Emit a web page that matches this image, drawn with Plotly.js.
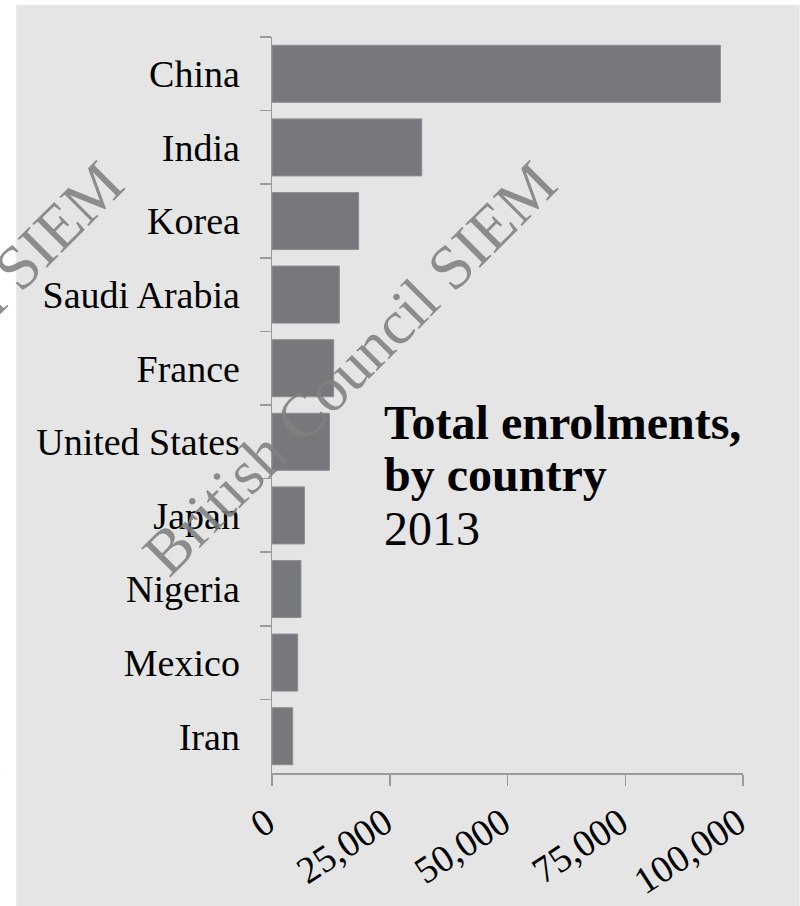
<!DOCTYPE html>
<html>
<head>
<meta charset="utf-8">
<script src="https://cdn.plot.ly/plotly-3.0.1.min.js"></script>
<style>html,body{margin:0;padding:0;background:#fff;}#chart{width:800px;height:906px;}</style>
</head>
<body>
<div id="chart"></div>
<script>
const countries = ["China", "India", "Korea", "Saudi Arabia", "France", "United States", "Japan", "Nigeria", "Mexico", "Iran"];
const enrolments = [95200, 31800, 18400, 14300, 13100, 12200, 6900, 6150, 5450, 4400];
const xTicks = [0, 25000, 50000, 75000, 100000];
const titleLine1 = "Total enrolments,";
const titleLine2 = "by country";
const titleLine3 = "2013";
const watermark = "British Council SIEM";

const serif = "Liberation Serif, Times New Roman, serif";
const axisGrey = "#9a9a9a";
const wmFont = {family: serif, size: 63, color: "rgba(128,128,128,0.88)"};

const trace = {
  type: "bar",
  orientation: "h",
  y: countries,
  x: enrolments,
  marker: {color: "#77787c", line: {color: "#8e8f92", width: 1}},
  hoverinfo: "skip"
};

const layout = {
  width: 800,
  height: 906,
  margin: {l: 272, r: 56.7, t: 37, b: 133, pad: 0},
  paper_bgcolor: "#ffffff",
  plot_bgcolor: "rgba(0,0,0,0)",
  showlegend: false,
  bargap: 0.225,
  font: {family: serif, color: "#000"},
  xaxis: {
    range: [0, 100000],
    tickvals: xTicks,
    tickformat: ",",
    tickangle: -33,
    ticks: "outside",
    ticklen: 11,
    tickwidth: 1.5,
    tickcolor: axisGrey,
    showline: true,
    linecolor: axisGrey,
    linewidth: 1.5,
    showgrid: false,
    zeroline: false,
    ticklabelshift: -5,
    tickfont: {family: serif, size: 38, color: "#000"},
    fixedrange: true
  },
  yaxis: {
    type: "category",
    autorange: "reversed",
    tickson: "boundaries",
    ticks: "outside",
    ticklen: 11,
    tickwidth: 1.5,
    tickcolor: axisGrey,
    showline: true,
    linecolor: axisGrey,
    linewidth: 1.5,
    showgrid: false,
    zeroline: false,
    ticklabelstandoff: 23,
    tickfont: {family: serif, size: 38, color: "#000"},
    fixedrange: true
  },
  shapes: [{
    type: "rect", xref: "paper", yref: "paper", layer: "below",
    x0: (16 - 272) / 471.3, x1: (800 - 272) / 471.3,
    y0: (773 - 906) / 736, y1: (773 - 5) / 736,
    fillcolor: "#e4e5e4", line: {width: 0}
  }],
  annotations: [
    {xref: "paper", yref: "paper", x: (382 - 272) / 471.3, y: (773 - 423) / 736, xanchor: "left", yanchor: "middle",
     text: "<b>" + titleLine1 + "</b>", showarrow: false, font: {family: serif, size: 48, color: "#000"}},
    {xref: "paper", yref: "paper", x: (382 - 272) / 471.3, y: (773 - 475) / 736, xanchor: "left", yanchor: "middle",
     text: "<b>" + titleLine2 + "</b>", showarrow: false, font: {family: serif, size: 48, color: "#000"}},
    {xref: "paper", yref: "paper", x: (382 - 272) / 471.3, y: (773 - 528) / 736, xanchor: "left", yanchor: "middle",
     text: titleLine3, showarrow: false, font: {family: serif, size: 48, color: "#000"}},
    {xref: "paper", yref: "paper", x: (350 - 272) / 471.3, y: (773 - 368) / 736, xanchor: "center", yanchor: "middle",
     text: watermark, textangle: -45, showarrow: false, font: wmFont},
    {xref: "paper", yref: "paper", x: (-83.4 - 272) / 471.3, y: (773 - 368) / 736, xanchor: "center", yanchor: "middle",
     text: watermark, textangle: -45, showarrow: false, font: wmFont},
    {xref: "paper", yref: "paper", x: (-208.7 - 272) / 471.3, y: (773 - 955.3) / 736, xanchor: "center", yanchor: "middle",
     text: watermark, textangle: -45, showarrow: false, font: wmFont}
  ]
};

Plotly.newPlot("chart", [trace], layout, {displayModeBar: false, staticPlot: true});
</script>
</body>
</html>
